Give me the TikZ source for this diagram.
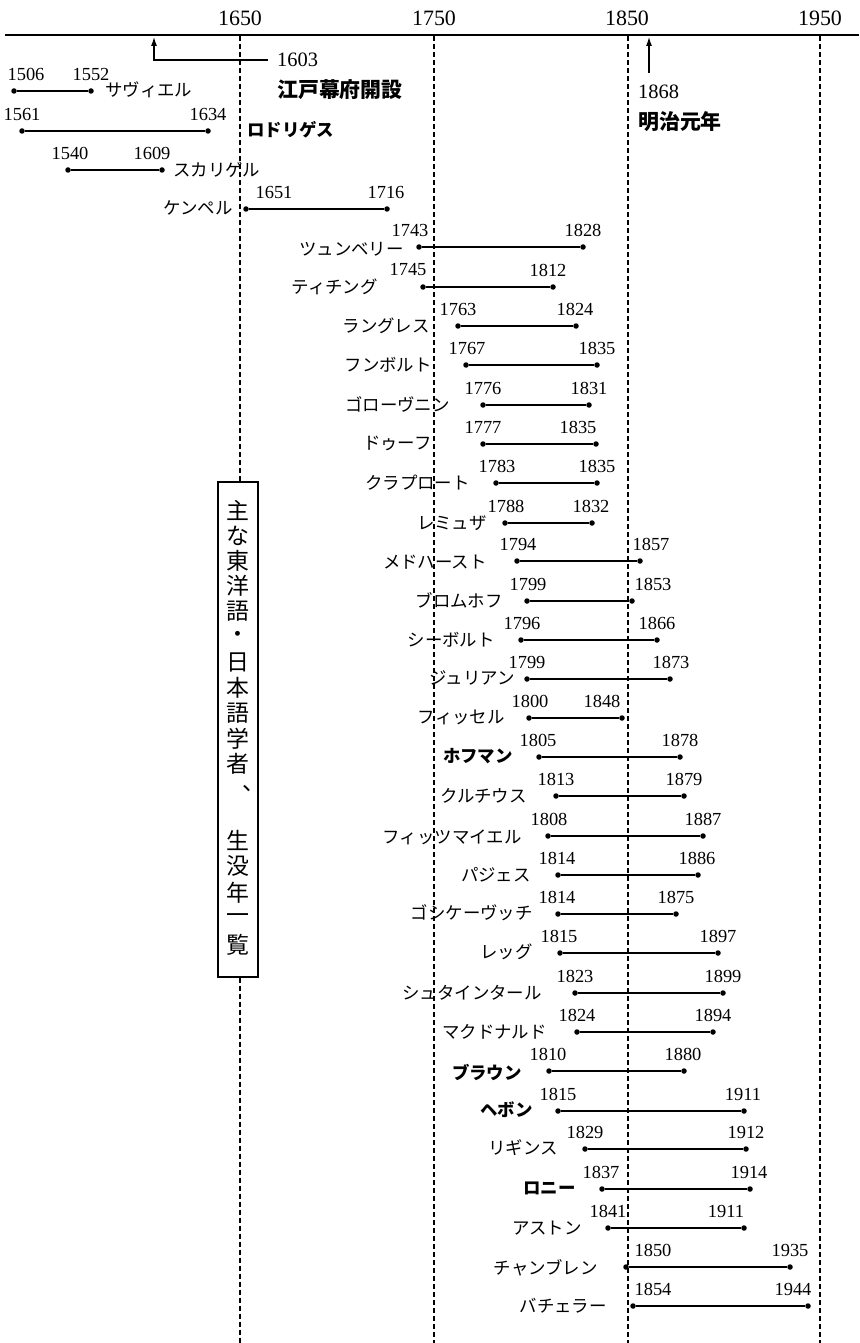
\documentclass[tikz,border=0pt]{standalone}
\usepackage{fontspec}
\setmainfont{Liberation Serif}
\newfontfamily\jp{Noto Sans CJK JP}
\usetikzlibrary{arrows.meta}
\tikzset{
  dot/.style={circle,fill=black,inner sep=0pt,minimum size=5.5bp},
  life/.style={line width=1.7bp},
  yr/.style={inner sep=0pt,font=\fontsize{18.5}{18.5}\selectfont},
  nm/.style={inner sep=0pt,font=\jp\fontsize{17.5}{18}\selectfont},
  nmb/.style={inner sep=0pt,font=\jp\bfseries\fontsize{17.5}{18}\selectfont},
  axyr/.style={inner sep=0pt,font=\fontsize{22}{22}\selectfont},
  evyr/.style={inner sep=0pt,font=\fontsize{20.5}{21}\selectfont},
  evtx/.style={inner sep=0pt,font=\jp\bfseries\fontsize{21}{21}\selectfont},
  guide/.style={line width=1.1bp,dash pattern=on 5bp off 3bp},
  axis/.style={line width=2.6bp},
  evt/.style={line width=1.1bp,-{Latex[length=9bp,width=6bp]}},
  ttl/.style={inner sep=0pt,font=\jp\fontsize{23}{23}\selectfont},
  ttlbox/.style={draw,line width=1.1bp,minimum width=40bp,minimum height=495bp,inner sep=0pt},
}
\newcommand{\tlrow}[8]{%
  \node[dot] (#1a) at (#3,#2) {};
  \node[dot] (#1b) at (#4,#2) {};
  \draw[life] (#1a) -- (#1b);
  \node[yr] (#1p) at (#6,#2-17) {#5};
  \node[yr] (#1q) at (#8,#2-17) {#7};
}
\begin{document}
\begin{tikzpicture}[x=1bp,y=-1bp]
\useasboundingbox[fill=white] (0,0) rectangle (859,1343);

% axis
\coordinate (axL) at (5,35);
\coordinate (axR) at (859,35);
\draw[axis] (axL) -- (axR);
\node[axyr] (y1650) at (240,18) {1650};
\node[axyr] (y1750) at (434,18) {1750};
\node[axyr] (y1850) at (627,18) {1850};
\node[axyr] (y1950) at (820,18) {1950};

% title box
\node[ttlbox] (title) at (238,729.5) {};

% guides
\coordinate (g1) at (240,36);
\coordinate (g1e) at (240,1343);
\coordinate (g2) at (434,36);
\coordinate (g2e) at (434,1343);
\coordinate (g3) at (628,36);
\coordinate (g3e) at (628,1343);
\coordinate (g4) at (820,36);
\coordinate (g4e) at (820,1343);
\draw[guide] (g1) -- (g1 |- title.north);
\draw[guide] (g1 |- title.south) -- (g1e);
\draw[guide] (g2) -- (g2e);
\draw[guide] (g3) -- (g3e);
\draw[guide] (g4) -- (g4e);

% title text
\foreach \c [count=\i] in {主,な,東,洋,語,・,日,本,語,学,者}
  \node[ttl] (ta\i) at (238,{510+25.4*(\i-1)}) {\c};
\node[ttl] (tcomma) at (254,789) {、};
\foreach \c [count=\i] in {生,没,年,一,覧}
  \node[ttl] (tb\i) at (238,{840+26.3*(\i-1)}) {\c};

% events
\coordinate (a1603) at (154,37);
\node[evyr,anchor=west] (e1603) at (277,60) {1603};
\node[evtx,anchor=west] (e1603t) at (277,90) {江戸幕府開設};
\draw[evt] ([xshift=-9bp]e1603.west) -| (a1603);
\coordinate (a1868) at (649,37);
\coordinate (a1868s) at (649,73);
\node[evyr,anchor=west] (e1868) at (638,92) {1868};
\node[evtx,anchor=west] (e1868t) at (638,122) {明治元年};
\draw[evt] (a1868s) -- (a1868);

% rows
\tlrow{r0}{91}{14}{91}{1506}{26}{1552}{91}
\node[nm,anchor=west] (r0n) at (105,90) {サヴィエル};
\tlrow{r1}{131}{22}{208}{1561}{22}{1634}{208}
\node[nmb,anchor=west] (r1n) at (247,130) {ロドリゲス};
\tlrow{r2}{170}{68}{162}{1540}{70}{1609}{152}
\node[nm,anchor=west] (r2n) at (173,170) {スカリゲル};
\tlrow{r3}{209}{246}{387}{1651}{274}{1716}{386}
\node[nm,anchor=east] (r3n) at (233,208) {ケンペル};
\tlrow{r4}{247}{419}{583}{1743}{410}{1828}{583}
\node[nm,anchor=east] (r4n) at (404,249) {ツュンベリー};
\tlrow{r5}{287}{423}{553}{1745}{408}{1812}{548}
\node[nm,anchor=east] (r5n) at (378,287) {ティチング};
\tlrow{r6}{326}{458}{576}{1763}{458}{1824}{575}
\node[nm,anchor=east] (r6n) at (430,326) {ラングレス};
\tlrow{r7}{365}{466}{597}{1767}{467}{1835}{597}
\node[nm,anchor=east] (r7n) at (432,365) {フンボルト};
\tlrow{r8}{405}{483}{589}{1776}{483}{1831}{589}
\node[nm,anchor=east] (r8n) at (450,404) {ゴローヴニン};
\tlrow{r9}{444}{483}{596}{1777}{483}{1835}{578}
\node[nm,anchor=east] (r9n) at (432,443) {ドゥーフ};
\tlrow{r10}{483}{496}{597}{1783}{497}{1835}{597}
\node[nm,anchor=east] (r10n) at (470,483) {クラプロート};
\tlrow{r11}{523}{505}{592}{1788}{506}{1832}{591}
\node[nm,anchor=east] (r11n) at (487,523) {レミュザ};
\tlrow{r12}{561}{517}{640}{1794}{518}{1857}{651}
\node[nm,anchor=east] (r12n) at (487,562) {メドハースト};
\tlrow{r13}{601}{527}{632}{1799}{528}{1853}{653}
\node[nm,anchor=east] (r13n) at (503,600) {ブロムホフ};
\tlrow{r14}{640}{521}{657}{1796}{522}{1866}{657}
\node[nm,anchor=east] (r14n) at (495,640) {シーボルト};
\tlrow{r15}{679}{527}{670}{1799}{527}{1873}{671}
\node[nm,anchor=east] (r15n) at (515,678) {ジュリアン};
\tlrow{r16}{718}{529}{622}{1800}{530}{1848}{602}
\node[nm,anchor=east] (r16n) at (505,717) {フィッセル};
\tlrow{r17}{757}{539}{680}{1805}{538}{1878}{680}
\node[nmb,anchor=east] (r17n) at (513,756) {ホフマン};
\tlrow{r18}{796}{556}{684}{1813}{556}{1879}{684}
\node[nm,anchor=east] (r18n) at (527,796) {クルチウス};
\tlrow{r19}{836}{548}{703}{1808}{549}{1887}{703}
\node[nm,anchor=east] (r19n) at (522,837) {フィッツマイエル};
\tlrow{r20}{875}{558}{698}{1814}{557}{1886}{697}
\node[nm,anchor=east] (r20n) at (531,875) {パジェス};
\tlrow{r21}{914}{558}{676}{1814}{557}{1875}{676}
\node[nm,anchor=east] (r21n) at (533,913) {ゴシケーヴッチ};
\tlrow{r22}{953}{560}{718}{1815}{559}{1897}{718}
\node[nm,anchor=east] (r22n) at (533,952) {レッグ};
\tlrow{r23}{993}{575}{723}{1823}{575}{1899}{723}
\node[nm,anchor=east] (r23n) at (542,993) {シュタインタール};
\tlrow{r24}{1032}{577}{713}{1824}{577}{1894}{713}
\node[nm,anchor=east] (r24n) at (547,1032) {マクドナルド};
\tlrow{r25}{1071}{549}{684}{1810}{548}{1880}{683}
\node[nmb,anchor=east] (r25n) at (522,1072) {ブラウン};
\tlrow{r26}{1111}{558}{744}{1815}{558}{1911}{743}
\node[nmb,anchor=east] (r26n) at (533,1110) {ヘボン};
\tlrow{r27}{1149}{585}{746}{1829}{585}{1912}{746}
\node[nm,anchor=east] (r27n) at (558,1148) {リギンス};
\tlrow{r28}{1189}{602}{750}{1837}{601}{1914}{749}
\node[nmb,anchor=east] (r28n) at (576,1188) {ロニー};
\tlrow{r29}{1228}{608}{744}{1841}{608}{1911}{726}
\node[nm,anchor=east] (r29n) at (582,1228) {アストン};
\tlrow{r30}{1267}{626}{790}{1850}{653}{1935}{790}
\node[nm,anchor=east] (r30n) at (598,1268) {チャンブレン};
\tlrow{r31}{1306}{633}{808}{1854}{653}{1944}{793}
\node[nm,anchor=east] (r31n) at (607,1306) {バチェラー};
\end{tikzpicture}
\end{document}
